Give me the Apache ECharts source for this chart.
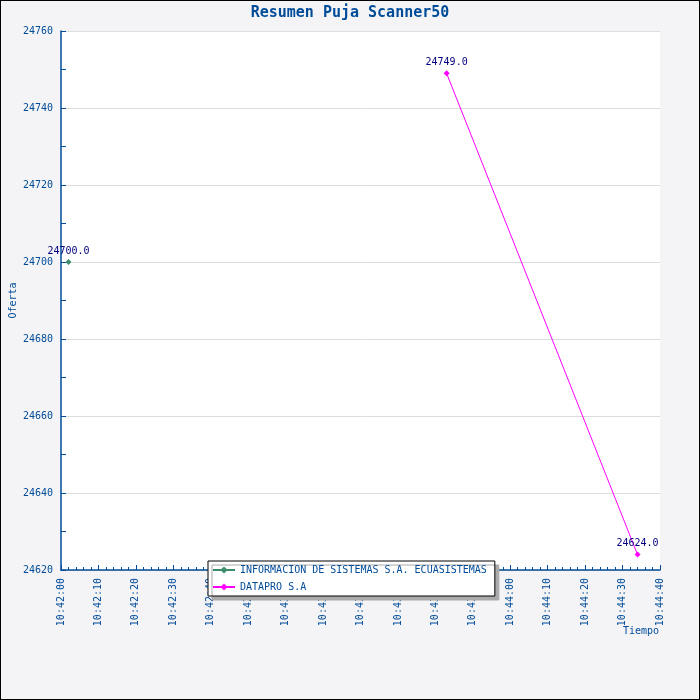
<!DOCTYPE html>
<html>
<head>
<meta charset="utf-8">
<title>Resumen Puja Scanner50</title>
<script src="https://cdn.jsdelivr.net/npm/echarts@6/dist/echarts.min.js"></script>
<style>
  html, body { margin: 0; padding: 0; background: #f4f4f6; }
  #chart { width: 698px; height: 698px; border: 1px solid #000; }
</style>
</head>
<body>
<div id="chart"></div>
<script>
// datos
const seriesNames = ["INFORMACION DE SISTEMAS S.A. ECUASISTEMAS", "DATAPRO S.A"];
const ecuaTimes = ["10:42:02"];
const ecuaValues = [24700];
const dataproTimes = ["10:43:43", "10:44:34"];
const dataproValues = [24749, 24624];
const colors = ["#3d8b6b", "#ff00ff"];

const toSec = (t) => {
    const p = t.split(":").map(Number);
    return p[0] * 3600 + p[1] * 60 + p[2];
};
const pad = (n) => String(n).padStart(2, "0");
const fmtTime = (s) => pad(Math.floor(s / 3600)) + ":" + pad(Math.floor(s / 60) % 60) + ":" + pad(s % 60);

const blue = "#004c99";
const mono = "DejaVu Sans Mono";

const chart = echarts.init(document.getElementById("chart"));

const pointLabel = {
    show: true,
    position: "top",
    distance: 3,
    color: "#000080",
    fontFamily: mono,
    fontSize: 10,
    formatter: (p) => p.value[1].toFixed(1)
};

const option = {
    backgroundColor: "#f4f4f6",
    animation: false,
    color: colors,
    title: {
        text: "Resumen Puja Scanner50",
        left: "center",
        top: 0,
        textStyle: { color: blue, fontFamily: mono, fontSize: 15, fontWeight: "bold" }
    },
    legend: {
        orient: "vertical",
        left: 207,
        top: 560,
        itemGap: 7,
        itemWidth: 22,
        itemHeight: 9,
        padding: [4, 8, 4, 4],
        backgroundColor: "#fff",
        borderColor: "#000",
        borderWidth: 1,
        shadowColor: "#aaaaaa",
        shadowBlur: 0,
        shadowOffsetX: 4,
        shadowOffsetY: 4,
        textStyle: { color: blue, fontFamily: mono, fontSize: 10 },
        data: seriesNames
    },
    grid: {
        left: 60,
        right: 39,
        top: 30,
        bottom: 129,
        outerBoundsMode: "none",
        containLabel: false,
        show: true,
        backgroundColor: "#fff",
        borderWidth: 0
    },
    xAxis: {
        type: "value",
        min: toSec("10:42:00"),
        max: toSec("10:44:40"),
        interval: 10,
        name: "Tiempo",
        nameLocation: "end",
        nameGap: -37,
        nameMoveOverlap: false,
        nameTextStyle: {
            color: blue, fontFamily: mono, fontSize: 10,
            verticalAlign: "top", padding: [56, 0, 0, 0]
        },
        axisLine: { lineStyle: { color: blue, width: 1.5 } },
        axisTick: { inside: true, length: 5, lineStyle: { color: blue } },
        minorTick: { show: true, splitNumber: 5, length: 3, lineStyle: { color: blue } },
        splitLine: { show: false },
        axisLabel: {
            rotate: 90,
            margin: 8,
            color: blue,
            fontFamily: mono,
            fontSize: 10,
            formatter: (v) => fmtTime(v)
        }
    },
    yAxis: {
        type: "value",
        min: 24620,
        max: 24760,
        interval: 20,
        name: "Oferta",
        nameLocation: "middle",
        nameGap: 43,
        nameMoveOverlap: false,
        nameTextStyle: { color: blue, fontFamily: mono, fontSize: 10 },
        axisLine: { show: true, lineStyle: { color: blue, width: 1.5 } },
        axisTick: { show: true, inside: true, length: 5, lineStyle: { color: blue } },
        minorTick: { show: true, splitNumber: 2, length: 5, lineStyle: { color: blue } },
        splitLine: { show: true, lineStyle: { color: "#dddddd" } },
        axisLabel: { color: blue, fontFamily: mono, fontSize: 10, margin: 8, formatter: (v) => String(v) }
    },
    series: [
        {
            name: seriesNames[0],
            type: "line",
            symbol: "diamond",
            symbolSize: 6,
            lineStyle: { width: 1 },
            data: ecuaTimes.map((t, i) => [toSec(t), ecuaValues[i]]),
            label: pointLabel
        },
        {
            name: seriesNames[1],
            type: "line",
            symbol: "diamond",
            symbolSize: 6,
            lineStyle: { width: 1 },
            data: dataproTimes.map((t, i) => [toSec(t), dataproValues[i]]),
            label: pointLabel
        }
    ]
};

chart.setOption(option);
</script>
</body>
</html>
